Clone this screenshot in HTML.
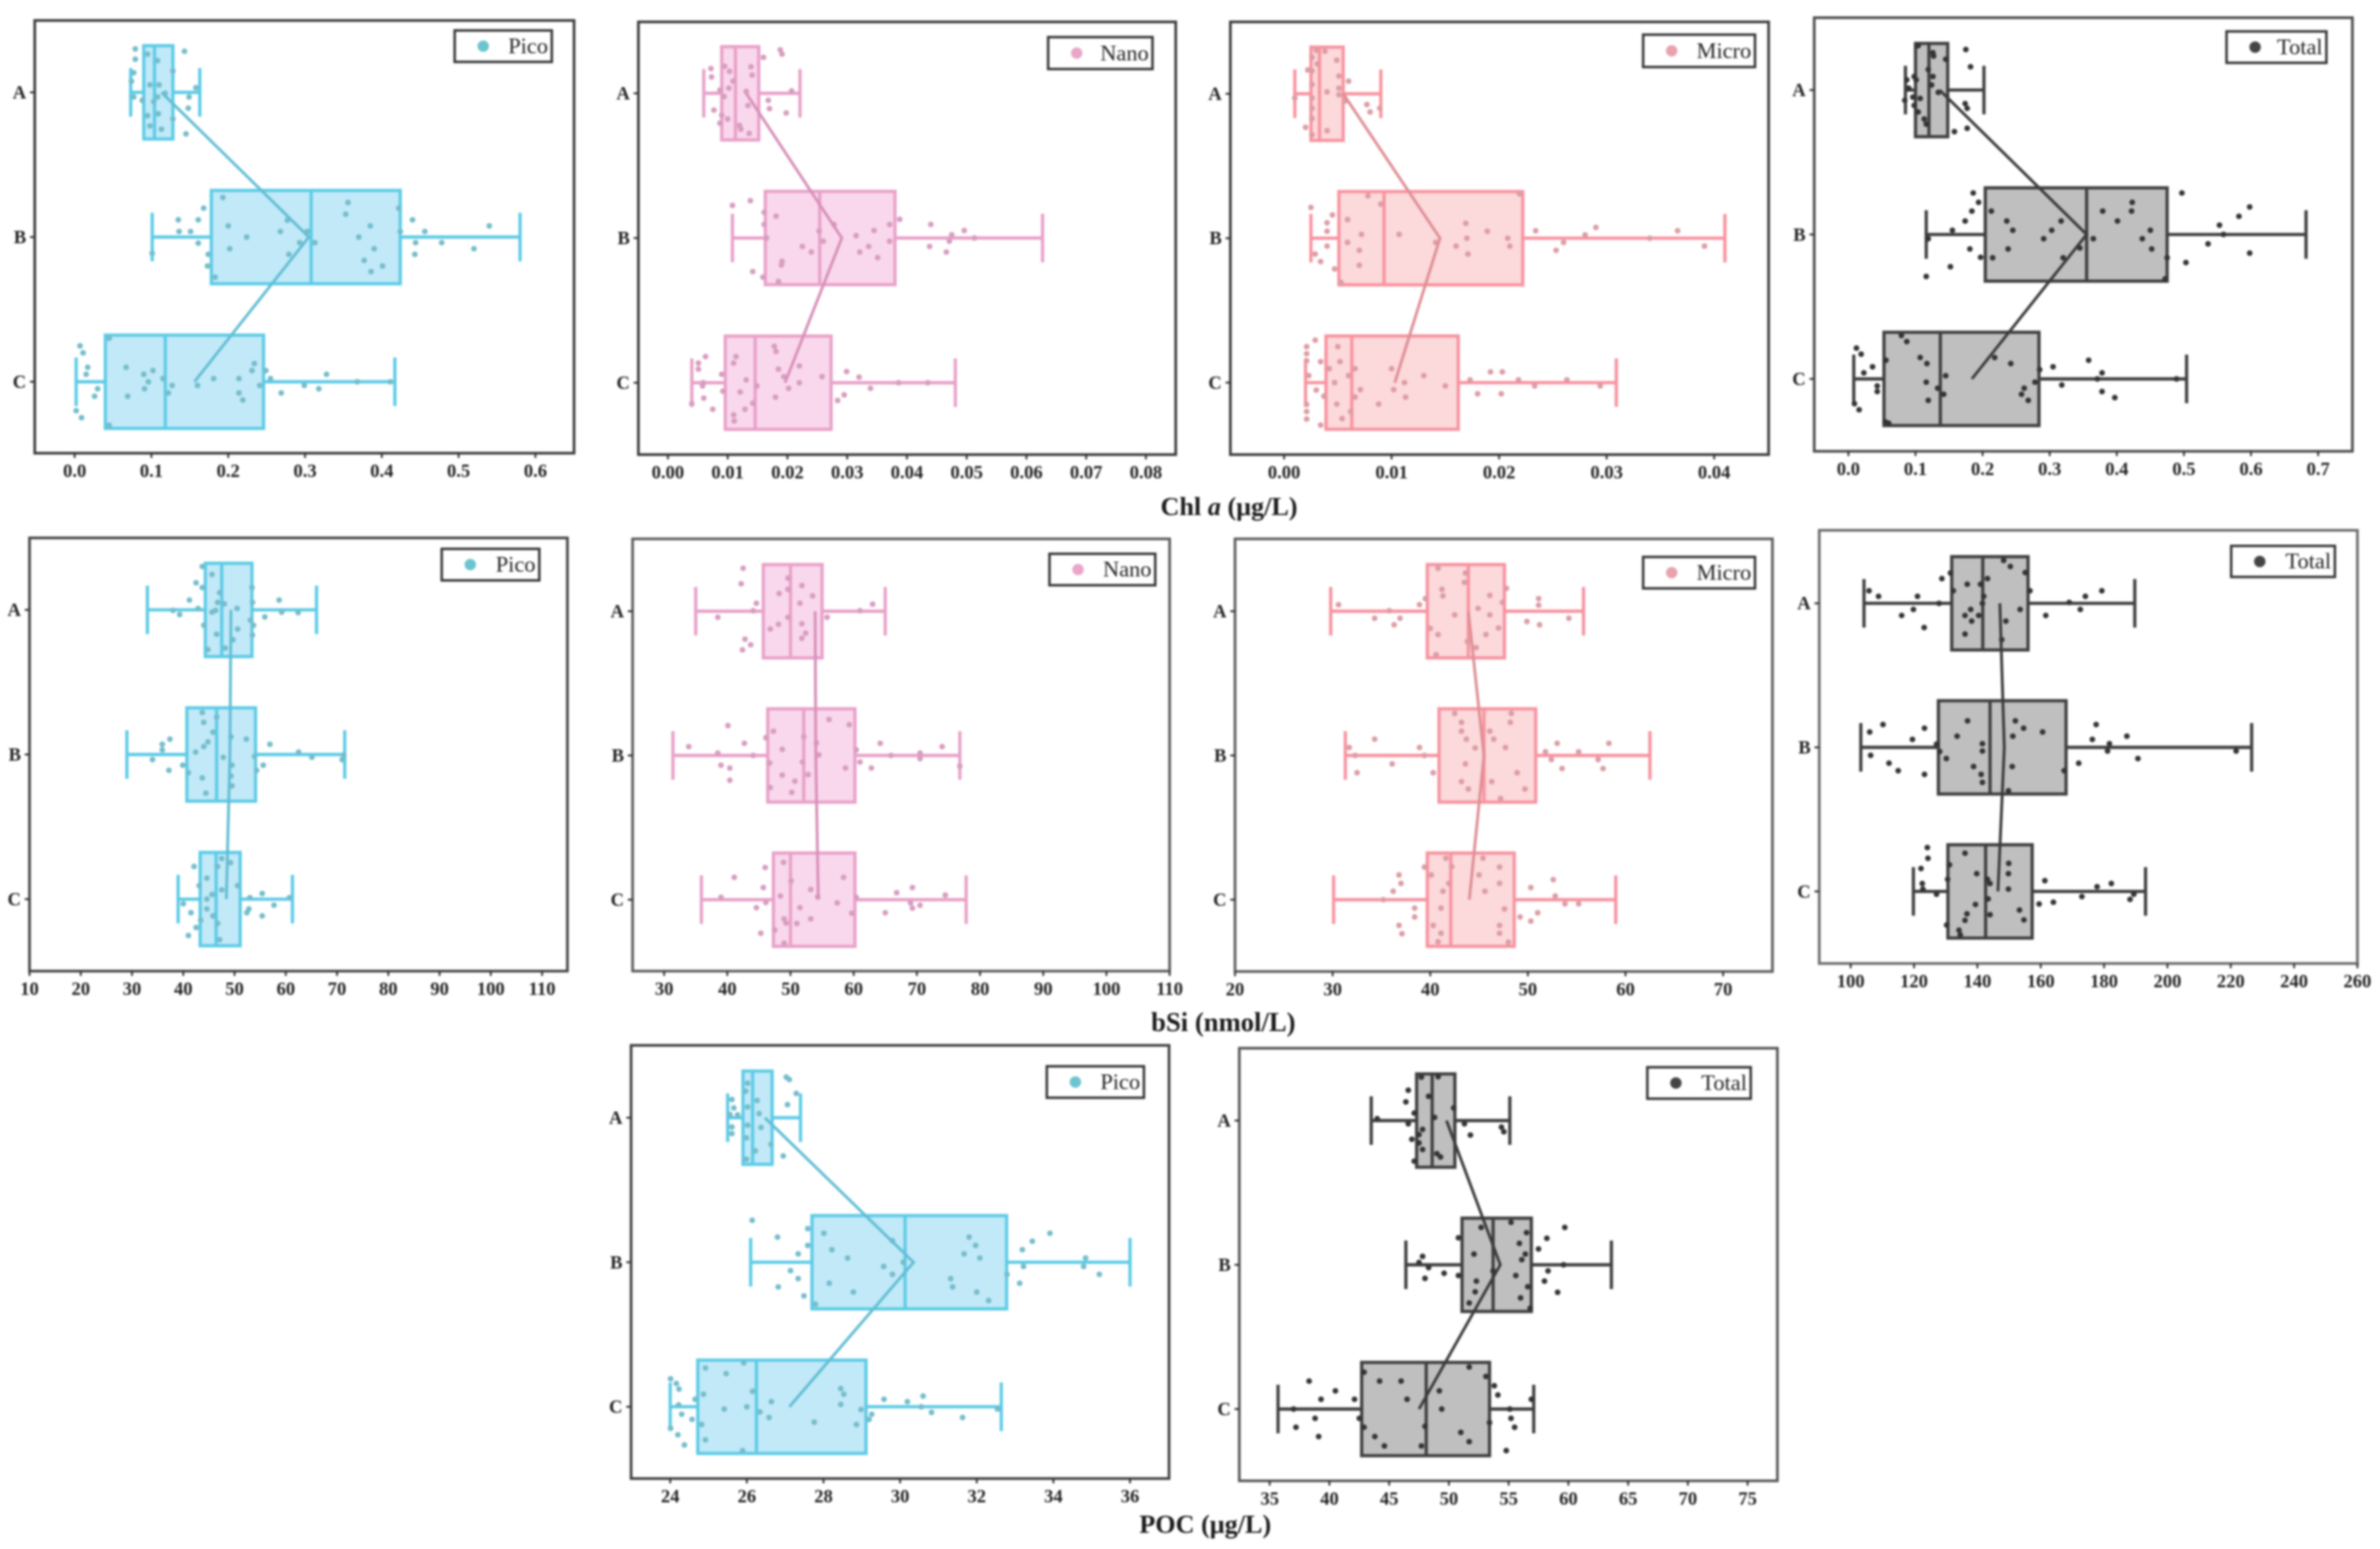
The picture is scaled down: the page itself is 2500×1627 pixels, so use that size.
<!DOCTYPE html>
<html lang="en">
<head>
<meta charset="utf-8">
<title>Horizontal box plots of Chl a, bSi and POC by size class</title>
<style>
html,body{margin:0;padding:0;background:#fff;}
body{width:2500px;height:1627px;overflow:hidden;}
#figure{display:block;width:2500px;height:1627px;filter:blur(0.95px);font-family:"Liberation Serif",serif;}
</style>
</head>
<body>
<svg id="figure" width="2500" height="1627" viewBox="0 0 2500 1627">
  <rect x="0" y="0" width="2500" height="1627" fill="#ffffff"/>
  <text x="1291" y="541" text-anchor="middle" font-size="27.5" font-weight="bold" fill="#1a1a1a">Chl <tspan font-style="italic">a</tspan> (μg/L)</text>
  <text x="1285" y="1083" text-anchor="middle" font-size="28" font-weight="bold" fill="#1a1a1a">bSi (nmol/L)</text>
  <text x="1266" y="1610" text-anchor="middle" font-size="27.5" font-weight="bold" fill="#1a1a1a">POC (μg/L)</text>
</svg>
<script>
const categories=['A','B','C'];

/* Chl a – Pico */
const chlPicoTicks=[0,0.1,0.2,0.3,0.4,0.5,0.6];
const chlPicoLow=[0.073,0.101,0.002];
const chlPicoQ1=[0.09,0.178,0.04];
const chlPicoMedian=[0.104,0.308,0.118];
const chlPicoQ3=[0.128,0.424,0.246];
const chlPicoHigh=[0.163,0.58,0.417];
const chlPicoMean=[0.113,0.305,0.156];
const chlPicoPointsA=[[.079,-.93],[.079,-.71],[.143,-.88],[.128,-.46],[.074,-.24],[.077,-.42],[.158,-.1],[.149,.1],[.148,.34],[.145,.89],[.077,.1],[.088,.17],[.098,-.16],[.108,-.68],[.095,-.82],[.11,-.16],[.118,.02],[.109,.46],[.113,.79],[.095,.5],[.098,.72],[.128,.57],[.103,.2],[.108,.1]];
const chlPicoPointsB=[[.193,-.85],[.168,-.62],[.135,-.37],[.161,-.37],[.136,-.12],[.151,-.12],[.161,.13],[.174,.37],[.173,.62],[.183,.86],[.101,.35],[.2,-.24],[.224,0],[.202,.25],[.277,-.36],[.268,-.12],[.293,.12],[.279,.37],[.303,-.12],[.313,.12],[.356,-.74],[.353,-.49],[.385,-.24],[.37,0],[.39,.25],[.377,.5],[.401,.62],[.386,.74],[.422,-.62],[.424,-.12],[.44,-.37],[.456,-.12],[.444,.12],[.443,.37],[.478,.12],[.52,.25],[.54,-.24]];
const chlPicoPointsC=[[.007,-.77],[.011,-.62],[.017,-.31],[.015,-.16],[.03,.15],[.026,.31],[.002,.62],[.009,.77],[.067,-.31],[.09,-.16],[.102,-.24],[.096,0],[.091,.15],[.069,.31],[.115,-.07],[.127,.08],[.122,.24],[.16,.08],[.181,-.07],[.214,-.07],[.214,.24],[.219,.39],[.231,-.24],[.234,-.39],[.249,-.24],[.255,-.07],[.241,.08],[.269,.24],[.299,.08],[.318,.15],[.328,-.16],[.368,0],[.411,0],[.045,.93],[.045,-.93]];

/* Chl a – Nano */
const chlNanoTicks=[0,0.01,0.02,0.03,0.04,0.05,0.06,0.07,0.08];
const chlNanoLow=[0.006,0.0108,0.004];
const chlNanoQ1=[0.009,0.0163,0.0096];
const chlNanoMedian=[0.0113,0.0254,0.0146];
const chlNanoQ3=[0.0152,0.038,0.0273];
const chlNanoHigh=[0.0221,0.0627,0.0481];
const chlNanoMean=[0.0131,0.0291,0.0196];
const chlNanoPointsA=[[.0188,-.93],[.0191,-.84],[.016,-.77],[.0072,-.53],[.0073,-.35],[.0095,-.58],[.0103,-.47],[.0109,-.26],[.0102,-.11],[.0139,-.57],[.0141,-.39],[.0087,-.07],[.0094,.07],[.0131,-.04],[.0168,.15],[.017,.33],[.0077,.36],[.0134,.26],[.0198,.42],[.009,.47],[.0087,.64],[.01,.55],[.012,.69],[.0122,.77],[.0136,.86],[.0207,-.05]];
const chlNanoPointsB=[[.0138,-.8],[.0108,-.7],[.0181,-.47],[.0161,-.55],[.0161,-.29],[.0165,0],[.0225,.18],[.024,.3],[.0191,.5],[.019,.58],[.0142,.72],[.0159,.84],[.0185,.93],[.0278,-.29],[.026,.07],[.0315,-.05],[.0345,-.16],[.0336,.18],[.0321,.3],[.0351,.42],[.0371,-.29],[.0371,.07],[.0388,-.4],[.044,-.29],[.0438,.18],[.0466,.3],[.0475,-.07],[.0471,.07],[.0496,-.16],[.0513,0],[.0253,-.15]];
const chlNanoPointsC=[[.0063,-.56],[.0051,-.42],[.0051,-.29],[.0059,0],[.0058,.07],[.006,.33],[.0075,.57],[.004,.45],[.009,-.18],[.0092,.18],[.0114,-.56],[.011,-.42],[.0131,-.06],[.0149,.07],[.0121,.2],[.0129,.57],[.011,.69],[.0111,.82],[.0178,-.78],[.0181,-.67],[.0185,-.29],[.0194,-.13],[.0202,.12],[.018,.31],[.022,-.36],[.022,0],[.0258,-.13],[.0299,-.24],[.032,-.12],[.0339,.12],[.0295,.26],[.0284,.38],[.0386,0],[.0435,0],[.0142,.44]];

/* Chl a – Micro */
const chlMicroTicks=[0,0.01,0.02,0.03,0.04];
const chlMicroLow=[0.001,0.0025,0.002];
const chlMicroQ1=[0.0025,0.0051,0.0039];
const chlMicroMedian=[0.0033,0.0093,0.0063];
const chlMicroQ3=[0.0055,0.0222,0.0162];
const chlMicroHigh=[0.009,0.041,0.0309];
const chlMicroMean=[0.0055,0.0145,0.0103];
const chlMicroPointsA=[[.0038,-.91],[.003,-.93],[.0049,-.72],[.0022,-.51],[.0051,-.38],[.006,-.27],[.004,-.04],[.0051,.02],[.0057,.15],[.0077,.23],[.008,.39],[.002,.72],[.004,.79],[.0026,-.78],[.0026,-.49],[.0026,-.2],[.0026,.09],[.0026,.31],[.0026,.53],[.0026,.88],[.0031,-.64],[.001,.09],[.0089,.31],[.0051,-.12]];
const chlMicroPointsB=[[.0078,-.91],[.009,-.73],[.0025,-.66],[.0045,-.5],[.004,-.33],[.004,-.15],[.0059,-.4],[.0072,-.08],[.0059,.09],[.007,.26],[.007,.58],[.004,.17],[.0029,.34],[.0034,.5],[.0047,.66],[.0053,.95],[.0107,-.08],[.0141,.09],[.016,.17],[.0169,-.32],[.017,0],[.0171,.34],[.0189,-.15],[.0208,0],[.021,.17],[.0219,-.95],[.0234,-.16],[.026,.09],[.0253,.26],[.028,-.07],[.029,-.23],[.034,0],[.0366,-.16],[.0391,.17]];
const chlMicroPointsC=[[.0029,-.91],[.0021,-.77],[.0021,-.62],[.0021,-.47],[.0021,.47],[.0021,.62],[.0021,.78],[.0034,-.45],[.0023,-.15],[.003,.16],[.005,-.77],[.0052,-.45],[.0042,-.3],[.006,-.15],[.0066,-.3],[.0047,0],[.0071,.15],[.0066,.31],[.0037,.29],[.0049,.46],[.0054,.77],[.0034,.91],[.0062,.62],[.01,-.3],[.0112,0],[.0102,.15],[.0113,.31],[.0088,.46],[.013,-.15],[.015,.07],[.0173,-.06],[.0192,-.23],[.0203,-.23],[.0218,-.06],[.018,.24],[.0202,.24],[.0233,.07],[.0263,-.06],[.0294,.07]];

/* Chl a – Total */
const chlTotalTicks=[0,0.1,0.2,0.3,0.4,0.5,0.6,0.7];
const chlTotalLow=[0.085,0.116,0.008];
const chlTotalQ1=[0.1,0.204,0.053];
const chlTotalMedian=[0.12,0.355,0.137];
const chlTotalQ3=[0.148,0.475,0.284];
const chlTotalHigh=[0.202,0.682,0.504];
const chlTotalMean=[0.136,0.355,0.184];
const chlTotalPointsA=[[.175,-.87],[.182,-.5],[.126,-.8],[.127,-.73],[.119,-.44],[.126,-.29],[.124,-.11],[.087,-.22],[.098,-.29],[.09,-.04],[.101,-.22],[.096,.15],[.084,.22],[.098,.33],[.107,.18],[.104,.47],[.113,.62],[.116,.73],[.134,.05],[.174,.29],[.177,.39],[.177,.82],[.158,.89],[.145,-.66],[.104,-.95]];
const chlTotalPointsB=[[.186,-.89],[.194,-.69],[.184,-.5],[.174,-.29],[.155,-.09],[.119,.09],[.181,.31],[.197,.49],[.152,.69],[.116,.9],[.213,-.5],[.236,-.29],[.245,-.09],[.238,.31],[.215,.5],[.317,-.29],[.303,-.09],[.291,.09],[.345,.29],[.32,.5],[.365,.09],[.379,-.5],[.401,-.29],[.423,-.69],[.422,-.5],[.45,-.09],[.438,.09],[.452,.31],[.475,.5],[.472,.95],[.497,-.89],[.503,.6],[.536,.2],[.553,-.2],[.559,0],[.582,-.39],[.598,-.59],[.598,.4]];
const chlTotalPointsC=[[.012,-.66],[.019,-.53],[.036,-.26],[.023,-.13],[.043,.15],[.043,.27],[.016,.66],[.009,.53],[.079,-.93],[.087,-.8],[.056,-.4],[.107,-.46],[.117,-.33],[.116,.07],[.119,.46],[.133,.2],[.142,.33],[.145,-.07],[.055,.92],[.06,.95],[.218,-.46],[.242,-.33],[.285,-.2],[.305,-.26],[.262,.2],[.258,.33],[.268,.46],[.318,.13],[.358,-.4],[.378,-.13],[.371,0],[.378,.27],[.397,.4],[.489,0],[.278,.07]];

/* bSi – Pico */
const bsiPicoTicks=[10,20,30,40,50,60,70,80,90,100,110];
const bsiPicoLow=[33,29,39];
const bsiPicoQ1=[44.3,40.7,43.3];
const bsiPicoMedian=[47.5,46.5,46.4];
const bsiPicoQ3=[53.4,54.1,51.1];
const bsiPicoHigh=[66,71.5,61.3];
const bsiPicoMean=[49.3,49.1,48.4];
const bsiPicoPointsA=[[43.7,-.93],[45.6,-.76],[42.5,-.58],[43.7,-.48],[41.2,-.21],[47.1,-.37],[46.7,-.16],[38,.01],[39.3,.1],[42.9,-.03],[45.6,.05],[46.3,.01],[48,-.13],[50.5,-.03],[44,.33],[46.5,.52],[50.6,.41],[49.7,.64],[48.2,.82],[44.8,.85],[53.4,-.48],[53.5,-.16],[53.1,.22],[53.5,.54],[58.7,-.21],[55.9,.15],[59.2,.05],[62.4,.06],[53.7,.33]];
const bsiPicoPointsB=[[43.7,-.9],[44,-.69],[46.5,-.8],[45.8,-.48],[37.4,-.33],[35.9,-.22],[35.9,-.1],[34,.11],[37.2,.34],[39.9,.23],[42.4,-.05],[44,-.17],[44.8,-.27],[47.8,.06],[43.7,.5],[44.4,.83],[41,.39],[49.3,-.38],[52.3,-.33],[49.5,.23],[49.5,.67],[49.3,.46],[56.9,-.22],[62.5,-.05],[65.1,.06],[71,.11],[71.3,.01],[55.6,.23],[54.3,.34],[53.9,.04]];
const bsiPicoPointsC=[[42.1,-.7],[44.6,-.45],[43.1,-.29],[45.6,-.1],[40,.1],[41.5,.29],[43.4,.45],[42.5,.61],[41,.78],[44.6,0],[44.6,.21],[45.8,.36],[46.7,.52],[47.1,.87],[49.2,-.78],[46.7,-.7],[47.5,-.87],[50.6,-.29],[47.5,-.2],[53,-.03],[55.4,-.12],[60.7,-.03],[57.7,.13],[52.8,.21],[52.4,.29],[55.4,.36]];

/* bSi – Nano */
const bsiNanoTicks=[30,40,50,60,70,80,90,100,110];
const bsiNanoLow=[35,31.4,35.9];
const bsiNanoQ1=[45.7,46.4,47.3];
const bsiNanoMedian=[50,52.1,50];
const bsiNanoQ3=[55,60.2,60.2];
const bsiNanoHigh=[65,76.8,77.8];
const bsiNanoMean=[53.9,54,54.4];
const bsiNanoPointsA=[[42.5,-.92],[42.2,-.59],[44.6,-.17],[44.1,-.01],[38.5,.13],[42.8,.6],[43.7,.72],[42.4,.83],[48.2,-.38],[49.6,-.71],[49.6,-.47],[51.8,-.55],[53.5,-.33],[51.5,-.17],[46.8,.38],[48.1,.28],[49.6,.13],[51.8,.27],[52.4,.47],[51.8,.58],[61,-.01],[63,-.15],[55.8,.13]];
const bsiNanoPointsB=[[40.1,-.64],[33.9,-.19],[38.5,-.05],[42.7,-.26],[44.1,0],[39,.21],[40.4,.27],[40.4,.53],[46.1,-.38],[47.3,-.52],[48.7,-.13],[46.7,.16],[48.7,.42],[46.8,.69],[50.2,.79],[50.7,.55],[52.1,-.4],[51.9,.14],[52.8,.41],[54.1,-.27],[54.5,-.01],[56.1,-.77],[59.3,-.66],[58.7,.27],[60.4,-.12],[61,.14],[64.2,-.26],[62.8,.27],[65.9,0],[70.5,-.05],[70.5,.07],[74,-.19],[76.8,.23]];
const bsiNanoPointsC=[[48.9,-.8],[46,-.69],[41.1,-.48],[45.7,-.26],[39,-.05],[44.6,.17],[46.1,.06],[45.3,.72],[48.4,-.08],[50.1,-.4],[49,.41],[49.3,.5],[51,.51],[47.5,.65],[49,.93],[51.5,.17],[53.2,.41],[53.2,-.22],[54.3,-.06],[57.4,.07],[58.4,-.48],[59.7,.29],[60.4,-.05],[66.8,-.15],[69.3,-.26],[69,.07],[69.3,.18],[70.5,.12],[65,.28],[74.5,-.1]];

/* bSi – Micro */
const bsiMicroTicks=[20,30,40,50,60,70];
const bsiMicroLow=[29.8,31.3,30.1];
const bsiMicroQ1=[39.7,40.9,39.7];
const bsiMicroMedian=[43.9,45.5,42.1];
const bsiMicroQ3=[47.6,50.8,48.6];
const bsiMicroHigh=[55.7,62.5,59];
const bsiMicroMean=[43.9,45.5,44];
const bsiMicroPointsA=[[40.8,-.92],[43.6,-.82],[43.5,-.62],[47.8,-.49],[41.2,-.47],[41.3,-.33],[39.5,-.27],[38.9,-.14],[42.5,.08],[46.1,-.34],[47.4,-.19],[44.9,-.06],[46.1,.08],[47,.36],[45.7,.5],[40,.37],[40.8,.5],[40.6,.93],[43.8,.65],[44.7,.78],[30.6,-.14],[35.8,-.01],[34.3,.15],[36.9,.15],[36.3,.29],[49.9,.22],[51.1,-.27],[51.1,-.13],[51.2,.29],[54.2,.15]];
const bsiMicroPointsB=[[42.5,-.9],[43.2,-.71],[43.2,-.52],[43.7,-.35],[44.6,-.16],[43.6,.18],[43.2,.56],[43.9,.72],[40.3,.37],[38.9,-.17],[39.4,0],[36.1,.18],[34.3,-.35],[31.7,-.17],[32.3,0],[32.5,.37],[48.3,-.9],[48.2,-.71],[46.1,-.52],[46.5,-.35],[47.7,-.17],[48.9,.37],[49.7,.72],[46.3,.56],[47.2,.92],[51.8,-.08],[53,-.26],[52.4,.09],[53.5,.28],[55.2,-.08],[57.2,.09],[57.7,.28],[58.3,-.26]];
const bsiMicroPointsC=[[41.6,-.89],[39.4,-.7],[42.2,-.71],[40.1,-.53],[36.8,-.53],[37,-.35],[36.2,-.18],[35.2,0],[38.4,.18],[38.4,.37],[36.8,.55],[37.1,.73],[41.3,-.18],[41.1,.18],[40.3,.55],[41.1,.72],[40.8,.9],[41.9,-.35],[47.1,-.7],[45,-.53],[47.1,-.35],[45.6,-.18],[47.6,.2],[47.1,.55],[47.1,.72],[48,.91],[45.4,-.89],[50.3,-.26],[52.6,-.43],[52.8,-.08],[51,.28],[49.2,.37],[50.3,.46],[53.8,.09],[55.2,.09]];

/* bSi – Total */
const bsiTotalTicks=[100,120,140,160,180,200,220,240,260];
const bsiTotalLow=[104.2,103.2,119.8];
const bsiTotalQ1=[131.9,127.7,130.7];
const bsiTotalMedian=[141.7,144,142.6];
const bsiTotalQ3=[156,168,157.3];
const bsiTotalHigh=[189.7,226.6,193.1];
const bsiTotalMean=[147.1,148.5,146.5];
const bsiTotalPointsA=[[105.8,-.27],[108.8,-.15],[121.1,-.15],[116.1,.26],[119.8,.13],[123.2,.52],[127.9,0],[128.8,-.53],[131.5,-.65],[132.4,-.27],[136.8,-.41],[136.1,.26],[137.9,.13],[138.2,.38],[136.1,.66],[140.4,.26],[141,-.41],[141.6,0],[143.2,-.53],[142,-.15],[148.3,-.92],[150.4,-.79],[155.1,-.66],[156.6,-.27],[153.5,.13],[149,.38],[147.7,.78],[174.1,-.15],[179.3,-.27],[172.5,.13],[161.6,.26],[169,-.02]];
const bsiTotalPointsB=[[106,-.33],[110.2,-.49],[123.3,-.41],[119.5,-.17],[106.3,.17],[112.1,.34],[115,.5],[123.3,.58],[127.1,-.07],[128.1,.09],[130.2,.24],[133.6,-.24],[136.9,-.57],[141.6,-.08],[141.6,.08],[138.8,.41],[141.2,.58],[141.6,.75],[152,-.57],[151.2,-.24],[154.6,-.41],[160.6,-.33],[151,.41],[149.8,.93],[167.4,.5],[172,.34],[177.5,-.49],[176.3,-.17],[181.7,-.08],[181.1,.08],[187.2,-.24],[190.7,.24],[221.7,.08]];
const bsiTotalPointsC=[[124.2,-.94],[124.4,-.71],[122.2,-.49],[122.6,-.17],[122.8,-.05],[127.1,.06],[136.1,-.82],[139.8,-.38],[131.2,-.57],[130.6,-.26],[144,-.17],[143.2,-.26],[143.4,.16],[139.4,.28],[144,.5],[136.7,.48],[136.1,.62],[130.3,.72],[134.2,.83],[134.6,.93],[149.9,-.6],[149.8,-.38],[149.8,-.05],[153.3,.4],[154.7,.61],[161.3,-.23],[164,.23],[159.5,.27],[173,.11],[177.8,-.1],[182.3,-.17],[188.2,.17],[189.4,.06]];

/* POC – Pico */
const pocPicoTicks=[24,26,28,30,32,34,36];
const pocPicoLow=[25.5,26.1,24];
const pocPicoQ1=[25.9,27.7,24.72];
const pocPicoMedian=[26.15,30.13,26.25];
const pocPicoQ3=[26.66,32.78,29.11];
const pocPicoHigh=[27.4,36,32.64];
const pocPicoMean=[26.47,30.35,27.11];
const pocPicoPointsA=[[27.03,-.87],[27.11,-.82],[27.29,-.52],[27.06,-.28],[26.95,.82],[26.02,-.74],[25.97,-.57],[25.61,-.39],[25.66,-.21],[25.56,-.07],[25.76,-.06],[26.02,-.23],[26.27,-.37],[26.32,-.09],[26.37,.21],[26.02,.16],[25.61,.2],[25.61,.34],[25.99,.43],[26.22,.71],[26.63,.57],[25.99,.89]];
const pocPicoPointsB=[[26.14,-.9],[27.59,-.72],[26.8,-.54],[27.59,-.36],[27.34,-.18],[27.14,.18],[27.34,.35],[26.82,.53],[27.49,.72],[27.79,.9],[28.01,-.62],[28.22,-.27],[28.63,-.09],[29.57,.09],[29.8,.26],[28.15,.45],[28.78,.64],[29.8,-.46],[30.08,0],[31.8,-.54],[31.97,-.36],[31.67,-.18],[32.08,-.09],[31.32,.35],[31.37,.53],[32,.64],[32.31,.82],[32.79,.26],[33.19,-.27],[33.45,-.45],[33.91,-.62],[33.22,.09],[33.12,.45],[34.84,-.09],[34.79,.09],[35.2,.26]];
const pocPicoPointsC=[[24.01,-.6],[24.16,-.5],[24.23,-.38],[24.22,-.04],[24.3,.16],[24.57,.27],[24.2,.6],[24.37,.82],[24.01,.46],[24.92,-.83],[25.46,-.71],[25.92,-.94],[24.65,-.16],[24.87,-.27],[25.41,.05],[26,0],[24.82,.38],[24.92,.71],[25.89,.94],[26.15,-.33],[26.64,-.11],[26.34,.11],[26.58,.23],[27.76,.33],[28.45,-.39],[28.53,-.27],[28.45,-.05],[28.86,.38],[28.98,.06],[29.26,.16],[29.19,.27],[29.58,-.16],[30.19,-.11],[30.6,-.23],[30.55,0],[30.82,.12],[31.63,.23],[32.54,.05]];

/* POC – Total */
const pocTotalTicks=[35,40,45,50,55,60,65,70,75];
const pocTotalLow=[43.5,46.4,35.7];
const pocTotalQ1=[47.3,51.1,42.7];
const pocTotalMedian=[48.6,53.7,48.1];
const pocTotalQ3=[50.5,56.9,53.4];
const pocTotalHigh=[55.1,63.6,57.1];
const pocTotalMean=[49.8,54.3,47.5];
const pocTotalPointsA=[[47.7,-.93],[49.1,-.94],[46.6,-.65],[46.4,-.4],[48.3,-.52],[47.1,-.16],[48.8,-.07],[44,-.04],[46.6,.07],[47.8,.19],[47.5,.3],[46.9,.4],[47.5,.48],[47.8,.62],[47.1,.87],[49,.71],[49.3,.78],[50.4,-.27],[51.3,.07],[51.8,.31],[54.4,.14],[54.6,.24]];
const pocTotalPointsB=[[55.2,-.91],[56.5,-.69],[55.9,-.46],[56.4,-.23],[56.1,-.11],[57.5,-.34],[58.2,-.57],[59.7,-.8],[52.7,-.8],[50.8,-.58],[52.1,-.23],[47.8,-.18],[47.5,-.05],[48.3,.06],[49.6,.18],[48,.29],[50.8,.23],[52.3,.35],[52.2,.58],[51.7,.82],[55.6,.23],[56.6,.47],[56,.71],[56.8,.93],[58.3,.13],[58,.35],[59.1,.59],[59.6,0],[53.7,.13]];
const pocTotalPointsC=[[38.3,-.6],[40.5,-.39],[39.3,-.21],[42.1,-.21],[37,0],[38.8,.2],[37.2,.39],[39.1,.59],[42.9,-.79],[44.2,-.6],[46,-.6],[46.5,-.21],[42.5,.2],[42.9,.39],[43.8,.59],[44.6,.79],[47.7,.79],[49.2,-.39],[49.4,0],[51,.5],[51.7,.7],[51.7,-.9],[53.1,-.7],[53.8,-.5],[54.1,-.3],[56.9,-.21],[55.1,0],[55.2,.2],[55.5,.39],[54.8,.89],[53.4,.29],[48,.37]];

const themes={
  Pico:{stroke:'#5ccbe6',fill:'#c2e9f8',point:'#74bccb',line:'#62bdd4',legend:'#6cc4cf'},
  Nano:{stroke:'#e8a0c8',fill:'#f9d8ed',point:'#d79cbf',line:'#d88fb8',legend:'#e8a6c8'},
  Micro:{stroke:'#f8929f',fill:'#fcd9db',point:'#dc9ca4',line:'#de8e94',legend:'#e8a2ae'},
  Total:{stroke:'#3f3f3f',fill:'#bfbfbf',point:'#333333',line:'#3a3a3a',legend:'#444444'}
};

const panels=[
 {id:'chl-pico',group:'Pico',ticks:chlPicoTicks,dec:1,low:chlPicoLow,q1:chlPicoQ1,med:chlPicoMedian,q3:chlPicoQ3,high:chlPicoHigh,mean:chlPicoMean,pts:[chlPicoPointsA,chlPicoPointsB,chlPicoPointsC],L:36.5,R:603,T:21.5,B:476,p0:78.4,p1:562.4,y0:97,dy:152,leg:[477.6,579.6,32,65],frame:'#3a3a3a'},
 {id:'chl-nano',group:'Nano',ticks:chlNanoTicks,dec:2,low:chlNanoLow,q1:chlNanoQ1,med:chlNanoMedian,q3:chlNanoQ3,high:chlNanoHigh,mean:chlNanoMean,pts:[chlNanoPointsA,chlNanoPointsB,chlNanoPointsC],L:670.6,R:1235,T:23,B:477.5,p0:701.6,p1:1203.7,y0:98,dy:152,leg:[1101,1210.6,39,72.5],frame:'#3a3a3a'},
 {id:'chl-micro',group:'Micro',ticks:chlMicroTicks,dec:2,low:chlMicroLow,q1:chlMicroQ1,med:chlMicroMedian,q3:chlMicroQ3,high:chlMicroHigh,mean:chlMicroMean,pts:[chlMicroPointsA,chlMicroPointsB,chlMicroPointsC],L:1292.4,R:1857.8,T:23,B:477.5,p0:1348.8,p1:1800.6,y0:98.5,dy:151.7,leg:[1726,1843.5,36.4,70.4],frame:'#3a3a3a'},
 {id:'chl-total',group:'Total',ticks:chlTotalTicks,dec:1,low:chlTotalLow,q1:chlTotalQ1,med:chlTotalMedian,q3:chlTotalQ3,high:chlTotalHigh,mean:chlTotalMean,pts:[chlTotalPointsA,chlTotalPointsB,chlTotalPointsC],L:1905.7,R:2471,T:18.6,B:474,p0:1941.6,p1:2435,y0:94.6,dy:151.7,leg:[2338.8,2443.7,33,66],frame:'#4a4a4a'},
 {id:'bsi-pico',group:'Pico',ticks:bsiPicoTicks,dec:0,low:bsiPicoLow,q1:bsiPicoQ1,med:bsiPicoMedian,q3:bsiPicoQ3,high:bsiPicoHigh,mean:bsiPicoMean,pts:[bsiPicoPointsA,bsiPicoPointsB,bsiPicoPointsC],L:31,R:596,T:565,B:1020,p0:31,p1:569.4,y0:640.6,dy:151.9,leg:[464,566.5,576.5,609.6],frame:'#444444'},
 {id:'bsi-nano',group:'Nano',ticks:bsiNanoTicks,dec:0,low:bsiNanoLow,q1:bsiNanoQ1,med:bsiNanoMedian,q3:bsiNanoQ3,high:bsiNanoHigh,mean:bsiNanoMean,pts:[bsiNanoPointsA,bsiNanoPointsB,bsiNanoPointsC],L:664.5,R:1228.6,T:566,B:1020,p0:697.6,p1:1228.6,y0:642,dy:151.5,leg:[1102.4,1213.5,581.7,614.7],frame:'#5c5c5c'},
 {id:'bsi-micro',group:'Micro',ticks:bsiMicroTicks,dec:0,low:bsiMicroLow,q1:bsiMicroQ1,med:bsiMicroMedian,q3:bsiMicroQ3,high:bsiMicroHigh,mean:bsiMicroMean,pts:[bsiMicroPointsA,bsiMicroPointsB,bsiMicroPointsC],L:1297.3,R:1861.8,T:566,B:1020.4,p0:1297.3,p1:1810,y0:642,dy:151.5,leg:[1726,1843.5,585,618],frame:'#5c5c5c'},
 {id:'bsi-total',group:'Total',ticks:bsiTotalTicks,dec:0,low:bsiTotalLow,q1:bsiTotalQ1,med:bsiTotalMedian,q3:bsiTotalQ3,high:bsiTotalHigh,mean:bsiTotalMean,pts:[bsiTotalPointsA,bsiTotalPointsB,bsiTotalPointsC],L:1911,R:2476.3,T:557,B:1012,p0:1944,p1:2476.3,y0:633.7,dy:151.3,leg:[2343.7,2452.6,573.4,606],frame:'#6a6a6a'},
 {id:'poc-pico',group:'Pico',ticks:pocPicoTicks,dec:0,low:pocPicoLow,q1:pocPicoQ1,med:pocPicoMedian,q3:pocPicoQ3,high:pocPicoHigh,mean:pocPicoMean,pts:[pocPicoPointsA,pocPicoPointsB,pocPicoPointsC],L:662.9,R:1228,T:1098,B:1553,p0:704,p1:1187,y0:1174,dy:151.8,leg:[1099.6,1201.6,1120,1153],frame:'#3f3f3f'},
 {id:'poc-total',group:'Total',ticks:pocTotalTicks,dec:0,low:pocTotalLow,q1:pocTotalQ1,med:pocTotalMedian,q3:pocTotalQ3,high:pocTotalHigh,mean:pocTotalMean,pts:[pocTotalPointsA,pocTotalPointsB,pocTotalPointsC],L:1301.8,R:1867,T:1101,B:1555.4,p0:1333.7,p1:1835.7,y0:1177,dy:151.5,leg:[1730.4,1839,1121,1154],frame:'#555555'}
];

const figure=document.getElementById('figure');
const NS=figure.namespaceURI;
const BOX_HALF=49;
const CAP_HALF=25.5;

function shape(tag,parent,attrs){
  const node=document.createElementNS(NS,tag);
  Object.keys(attrs).forEach(function(k){node.setAttribute(k,attrs[k]);});
  parent.appendChild(node);
  return node;
}

panels.forEach(function(p){
  const theme=themes[p.group];
  const t0=p.ticks[0];
  const t1=p.ticks[p.ticks.length-1];
  const xScale=function(v){return p.p0+(v-t0)/(t1-t0)*(p.p1-p.p0);};
  const yScale=function(i){return p.y0+i*p.dy;};

  const g=shape('g',figure,{});
  
  

  const frame=shape('rect',g,{x:p.L,y:p.T,width:p.R-p.L,height:p.B-p.T,fill:'#ffffff',stroke:p.frame,'stroke-width':2.8});
  
  

  p.ticks.forEach(function(t){
    const px=xScale(t);
    const tick=shape('line',g,{x1:px,x2:px,y1:p.B,y2:p.B+5,stroke:'#333333','stroke-width':2});
    
    
    const label=shape('text',g,{x:px,y:p.B+25,'text-anchor':'middle','font-size':19.5,'font-weight':'bold',fill:'#222222'});
    label.textContent=t.toFixed(p.dec);
    
    
  });

  categories.forEach(function(cat,i){
    const cy=yScale(i);
    const tick=shape('line',g,{x1:p.L-5,x2:p.L,y1:cy,y2:cy,stroke:'#333333','stroke-width':2});
    
    
    const label=shape('text',g,{x:p.L-9,y:cy+6.5,'text-anchor':'end','font-size':19.5,'font-weight':'bold',fill:'#222222'});
    label.textContent=cat;
    
    

    const box=shape('rect',g,{x:xScale(p.q1[i]),y:cy-BOX_HALF,width:xScale(p.q3[i])-xScale(p.q1[i]),height:2*BOX_HALF,fill:theme.fill,stroke:theme.stroke,'stroke-width':3.4});
    
    

    const whiskerLow=shape('line',g,{x1:xScale(p.low[i]),x2:xScale(p.q1[i]),y1:cy,y2:cy,stroke:theme.stroke,'stroke-width':3.4});
    
    
    const whiskerHigh=shape('line',g,{x1:xScale(p.q3[i]),x2:xScale(p.high[i]),y1:cy,y2:cy,stroke:theme.stroke,'stroke-width':3.4});
    
    
    const capLow=shape('line',g,{x1:xScale(p.low[i]),x2:xScale(p.low[i]),y1:cy-CAP_HALF,y2:cy+CAP_HALF,stroke:theme.stroke,'stroke-width':3.4});
    
    
    const capHigh=shape('line',g,{x1:xScale(p.high[i]),x2:xScale(p.high[i]),y1:cy-CAP_HALF,y2:cy+CAP_HALF,stroke:theme.stroke,'stroke-width':3.4});
    
    
    const median=shape('line',g,{x1:xScale(p.med[i]),x2:xScale(p.med[i]),y1:cy-BOX_HALF,y2:cy+BOX_HALF,stroke:theme.stroke,'stroke-width':3.4});
    
    

    p.pts[i].forEach(function(pt){
      const dot=shape('circle',g,{cx:xScale(pt[0]),cy:cy+pt[1]*BOX_HALF,r:3,fill:theme.point});
      
      
    });
  });

  const meanPoints=p.mean.map(function(v,i){return xScale(v)+','+yScale(i);}).join(' ');
  const meanLine=shape('polyline',g,{points:meanPoints,fill:'none',stroke:theme.line,'stroke-width':3});
  
  

  const legend=shape('g',g,{});
  
  
  const legendBox=shape('rect',legend,{x:p.leg[0],y:p.leg[2],width:p.leg[1]-p.leg[0],height:p.leg[3]-p.leg[2],fill:'#ffffff',stroke:'#333333','stroke-width':2.6});
  
  
  const legendY=(p.leg[2]+p.leg[3])/2;
  const legendDot=shape('circle',legend,{cx:p.leg[0]+30,cy:legendY,r:6,fill:theme.legend});
  
  
  const legendText=shape('text',legend,{x:p.leg[1]-4,y:legendY+7.5,'text-anchor':'end','font-size':23.5,fill:'#222222'});
  legendText.textContent=p.group;
  
  
});
</script>
</body>
</html>
